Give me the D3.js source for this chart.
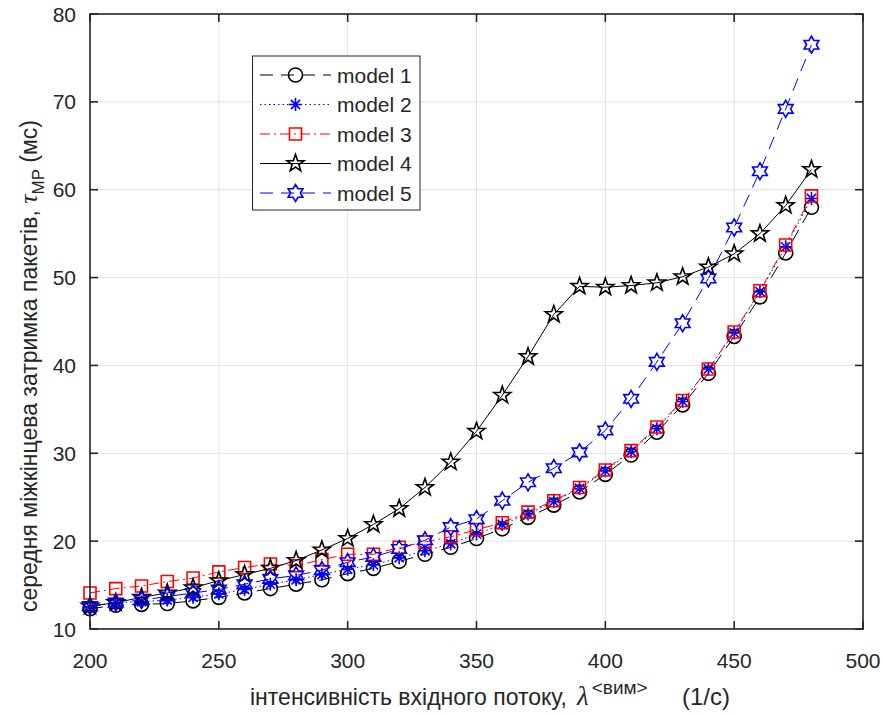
<!DOCTYPE html>
<html>
<head>
<meta charset="utf-8">
<script src="https://cdn.jsdelivr.net/npm/d3@7/dist/d3.min.js"></script>
<style>
  html, body { margin: 0; padding: 0; background: #fff; }
  svg { display: block; }
  text { font-family: "Liberation Sans", Arial, Helvetica, sans-serif; fill: #262626; }
</style>
</head>
<body>
<svg id="chart" width="883" height="715"></svg>
<script>
const xValues = [200,210,220,230,240,250,260,270,280,290,300,310,320,330,340,350,360,370,380,390,400,410,420,430,440,450,460,470,480];
const model1 = [12.3,12.7,12.8,12.9,13.2,13.6,14.1,14.6,15.1,15.6,16.3,16.9,17.7,18.5,19.3,20.3,21.4,22.7,24.1,25.6,27.6,29.8,32.4,35.5,39.1,43.3,47.8,52.8,58.0];
const model2 = [12.5,13.0,13.1,13.3,13.6,14.0,14.5,15.1,15.6,16.2,16.8,17.3,18.1,18.9,19.7,20.8,21.9,23.1,24.5,26.0,28.0,30.2,32.8,35.9,39.6,43.7,48.4,53.5,59.0];
const model3 = [14.1,14.6,14.9,15.4,15.8,16.5,17.0,17.4,17.2,17.9,18.5,18.5,19.3,19.9,20.5,21.3,22.1,23.3,24.6,26.1,28.1,30.3,33.0,36.0,39.6,43.8,48.5,53.7,59.3];
const model4 = [12.6,13.0,13.6,14.1,14.7,15.5,16.2,16.9,17.8,19.0,20.3,21.9,23.7,26.1,29.0,32.5,36.6,41.0,45.8,49.0,48.9,49.1,49.4,50.1,51.2,52.7,55.0,58.2,62.3];
const model5 = [12.6,13.0,13.3,13.7,14.1,14.5,15.1,15.7,16.1,16.7,17.6,18.2,19.1,20.1,21.6,22.5,24.6,26.7,28.3,30.1,32.6,36.2,40.4,44.8,49.9,55.7,62.1,69.2,76.5];
const seriesNames = ["model 1","model 2","model 3","model 4","model 5"];
const xTicks = [200,250,300,350,400,450,500];
const yTicks = [10,20,30,40,50,60,70,80];

const svg = d3.select("#chart");
const L = 90, R = 863, T = 14, B = 629;
const x = d3.scaleLinear().domain([200,500]).range([L,R]);
const y = d3.scaleLinear().domain([10,80]).range([B,T]);
const axisColor = "#262626";

// grid
const grid = svg.append("g");
grid.selectAll("line.gx").data(xTicks).enter().append("line")
  .attr("x1", d => x(d)).attr("x2", d => x(d)).attr("y1", T).attr("y2", B)
  .attr("stroke", "#e3e3e3").attr("stroke-width", 1);
grid.selectAll("line.gy").data(yTicks).enter().append("line")
  .attr("x1", L).attr("x2", R).attr("y1", d => y(d)).attr("y2", d => y(d))
  .attr("stroke", "#e3e3e3").attr("stroke-width", 1);

// symbols
function pathFrom(pts) { return "M" + pts.map(p => p[0].toFixed(2)+","+p[1].toFixed(2)).join("L") + "Z"; }
function starPath(n, ro, ri) {
  const pts = [];
  for (let i = 0; i < 2*n; i++) {
    const r = i % 2 === 0 ? ro : ri;
    const a = -Math.PI/2 + i * Math.PI / n;
    pts.push([r*Math.cos(a), r*Math.sin(a)]);
  }
  return pathFrom(pts);
}
const markers = {
  circle: () => d3.symbol(d3.symbolCircle, Math.PI*7*7)(),
  asterisk: () => {
    const r = 6.5, s = r*0.7071;
    return `M${-r},0L${r},0M0,${-r}L0,${r}M${-s},${-s}L${s},${s}M${-s},${s}L${s},${-s}`;
  },
  square: () => "M-6,-6L6,-6L6,6L-6,6Z",
  pentagram: () => starPath(5, 9, 3.6),
  hexagram: () => starPath(6, 8.5, 4.9)
};

const series = [
  {name: seriesNames[0], values: model1, color: "#000000", dash: "13,8", marker: "circle"},
  {name: seriesNames[1], values: model2, color: "#0000ff", dash: "1.5,3", marker: "asterisk"},
  {name: seriesNames[2], values: model3, color: "#ff0000", dash: "10,4,2,4", marker: "square"},
  {name: seriesNames[3], values: model4, color: "#000000", dash: null, marker: "pentagram"},
  {name: seriesNames[4], values: model5, color: "#0000ff", dash: "13,8", marker: "hexagram"}
];

const line = d3.line().x(d => x(d[0])).y(d => y(d[1]));
const plot = svg.append("g");
series.forEach(s => {
  const data = xValues.map((xv, i) => [xv, s.values[i]]);
  const g = plot.append("g");
  g.append("path").datum(data).attr("d", line)
    .attr("fill", "none").attr("stroke", s.color).attr("stroke-width", 1)
    .attr("stroke-dasharray", s.dash);
  g.selectAll("path.m").data(data).enter().append("path")
    .attr("d", markers[s.marker]())
    .attr("transform", d => `translate(${x(d[0])},${y(d[1])})`)
    .attr("fill", "none").attr("stroke", s.color).attr("stroke-width", 1.6);
});

// axes box
const axG = svg.append("g");
axG.append("rect").attr("x", L).attr("y", T).attr("width", R-L).attr("height", B-T)
  .attr("fill", "none").attr("stroke", axisColor).attr("stroke-width", 1.6);
const tl = 8;
xTicks.forEach(t => {
  axG.append("line").attr("x1", x(t)).attr("x2", x(t)).attr("y1", B).attr("y2", B-tl).attr("stroke", axisColor).attr("stroke-width", 1.6);
  axG.append("line").attr("x1", x(t)).attr("x2", x(t)).attr("y1", T).attr("y2", T+tl).attr("stroke", axisColor).attr("stroke-width", 1.6);
  axG.append("text").attr("x", x(t)).attr("y", B+39).attr("text-anchor", "middle")
    .attr("font-size", 21).text(t);
});
yTicks.forEach(t => {
  axG.append("line").attr("x1", L).attr("x2", L+tl).attr("y1", y(t)).attr("y2", y(t)).attr("stroke", axisColor).attr("stroke-width", 1.6);
  axG.append("line").attr("x1", R).attr("x2", R-tl).attr("y1", y(t)).attr("y2", y(t)).attr("stroke", axisColor).attr("stroke-width", 1.6);
  axG.append("text").attr("x", L-14).attr("y", y(t)+7.5).attr("text-anchor", "end")
    .attr("font-size", 21).text(t);
});

// x label
const xl = svg.append("text").attr("x", 250).attr("y", 705).attr("text-anchor", "start").attr("font-size", 23);
xl.append("tspan").text("інтенсивність вхідного потоку,");
xl.append("tspan").attr("x", 577).attr("font-size", 27).attr("font-family", "'Liberation Serif', 'DejaVu Serif', serif").attr("font-style", "italic").text("λ");
xl.append("tspan").attr("font-size", 19).attr("dx", 3).attr("dy", -11).text("<вим>");
xl.append("tspan").attr("x", 682).attr("dy", 11).attr("font-size", 24).text("(1/с)");

// y label
const yl = svg.append("text").attr("transform", "translate(37,612) rotate(-90)").attr("text-anchor", "start").attr("font-size", 23);
yl.append("tspan").text("середня міжкінцева затримка пакетів, ");
yl.append("tspan").attr("font-size", 26).attr("font-family", "'Liberation Serif', 'DejaVu Serif', serif").attr("font-style", "italic").text("τ");
yl.append("tspan").attr("font-size", 17).attr("dy", 7).text("MP");
yl.append("tspan").attr("dy", -7).text(" (мс)");

// legend
const lg = svg.append("g");
lg.append("rect").attr("x", 252.5).attr("y", 56).attr("width", 167.5).attr("height", 154)
  .attr("fill", "#fff").attr("stroke", axisColor).attr("stroke-width", 1);
series.forEach((s, i) => {
  const cy = 75 + i*29.5;
  lg.append("line").attr("x1", 260).attr("x2", 331).attr("y1", cy).attr("y2", cy)
    .attr("stroke", s.color).attr("stroke-width", 1).attr("stroke-dasharray", s.dash);
  lg.append("path").attr("d", markers[s.marker]()).attr("transform", `translate(295.5,${cy})`)
    .attr("fill", "none").attr("stroke", s.color).attr("stroke-width", 1.6);
  lg.append("text").attr("x", 337).attr("y", cy+7.5).attr("font-size", 21).attr("fill", "#000").text(s.name);
});
</script>
</body>
</html>
